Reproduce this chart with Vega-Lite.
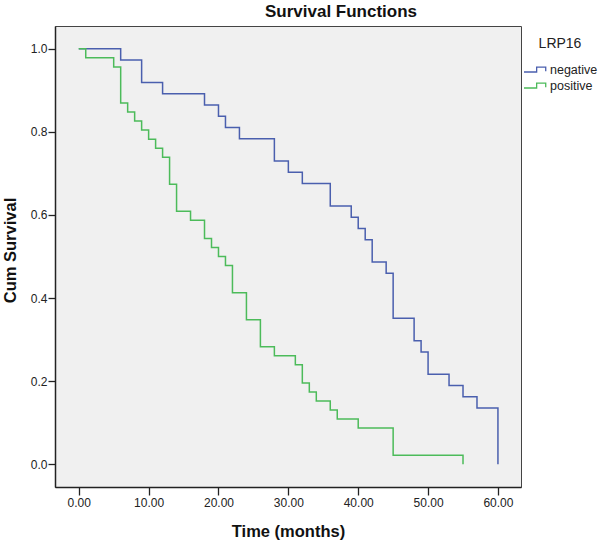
{
  "$schema": "https://vega.github.io/schema/vega-lite/v6.json",
  "width": 466,
  "height": 461,
  "autosize": {"type": "none"},
  "padding": {"left": 55, "top": 26, "right": 79, "bottom": 57},
  "background": "#ffffff",
  "title": {
    "text": "Survival Functions",
    "font": "Liberation Sans",
    "fontSize": 17,
    "fontWeight": "bold",
    "color": "#111111",
    "anchor": "middle",
    "dx": 53,
    "offset": 5
  },
  "data": {
    "values": [
      {"group": "negative", "time": 0, "survival": 1.0},
      {"group": "negative", "time": 6, "survival": 0.973},
      {"group": "negative", "time": 9, "survival": 0.9189},
      {"group": "negative", "time": 12, "survival": 0.8919},
      {"group": "negative", "time": 18, "survival": 0.8649},
      {"group": "negative", "time": 20, "survival": 0.8378},
      {"group": "negative", "time": 21, "survival": 0.8108},
      {"group": "negative", "time": 23, "survival": 0.7838},
      {"group": "negative", "time": 28, "survival": 0.7297},
      {"group": "negative", "time": 30, "survival": 0.7027},
      {"group": "negative", "time": 32, "survival": 0.6757},
      {"group": "negative", "time": 36, "survival": 0.6216},
      {"group": "negative", "time": 39, "survival": 0.5946},
      {"group": "negative", "time": 40, "survival": 0.5676},
      {"group": "negative", "time": 41, "survival": 0.5405},
      {"group": "negative", "time": 42, "survival": 0.4865},
      {"group": "negative", "time": 44, "survival": 0.4595},
      {"group": "negative", "time": 45, "survival": 0.3514},
      {"group": "negative", "time": 48, "survival": 0.2973},
      {"group": "negative", "time": 49, "survival": 0.2703},
      {"group": "negative", "time": 50, "survival": 0.2162},
      {"group": "negative", "time": 53, "survival": 0.1892},
      {"group": "negative", "time": 55, "survival": 0.1622},
      {"group": "negative", "time": 57, "survival": 0.1351},
      {"group": "negative", "time": 60, "survival": 0.0},
      {"group": "positive", "time": 0, "survival": 1.0},
      {"group": "positive", "time": 1, "survival": 0.9783},
      {"group": "positive", "time": 5, "survival": 0.9565},
      {"group": "positive", "time": 6, "survival": 0.8696},
      {"group": "positive", "time": 7, "survival": 0.8478},
      {"group": "positive", "time": 8, "survival": 0.8261},
      {"group": "positive", "time": 9, "survival": 0.8043},
      {"group": "positive", "time": 10, "survival": 0.7826},
      {"group": "positive", "time": 11, "survival": 0.7609},
      {"group": "positive", "time": 12, "survival": 0.7391},
      {"group": "positive", "time": 13, "survival": 0.6739},
      {"group": "positive", "time": 14, "survival": 0.6087},
      {"group": "positive", "time": 16, "survival": 0.587},
      {"group": "positive", "time": 18, "survival": 0.5435},
      {"group": "positive", "time": 19, "survival": 0.5217},
      {"group": "positive", "time": 20, "survival": 0.5},
      {"group": "positive", "time": 21, "survival": 0.4783},
      {"group": "positive", "time": 22, "survival": 0.413},
      {"group": "positive", "time": 24, "survival": 0.3478},
      {"group": "positive", "time": 26, "survival": 0.2826},
      {"group": "positive", "time": 28, "survival": 0.2609},
      {"group": "positive", "time": 31, "survival": 0.2391},
      {"group": "positive", "time": 32, "survival": 0.1957},
      {"group": "positive", "time": 33, "survival": 0.1739},
      {"group": "positive", "time": 34, "survival": 0.1522},
      {"group": "positive", "time": 36, "survival": 0.1304},
      {"group": "positive", "time": 37, "survival": 0.1087},
      {"group": "positive", "time": 40, "survival": 0.087},
      {"group": "positive", "time": 45, "survival": 0.0217},
      {"group": "positive", "time": 55, "survival": 0.0}
    ]
  },
  "mark": {"type": "line", "interpolate": "step-after", "strokeWidth": 1.5},
  "encoding": {
    "x": {
      "field": "time",
      "type": "quantitative",
      "scale": {"domain": [-3.4, 63.3], "nice": false, "zero": false},
      "axis": {
        "title": "Time (months)",
        "values": [0, 10, 20, 30, 40, 50, 60],
        "format": ".2f",
        "tickSize": 8,
        "labelPadding": 2,
        "titleY": 49,
        "titleBaseline": "alphabetic"
      }
    },
    "y": {
      "field": "survival",
      "type": "quantitative",
      "scale": {"domain": [-0.055, 1.055], "nice": false, "zero": false},
      "axis": {
        "title": "Cum Survival",
        "values": [0, 0.2, 0.4, 0.6, 0.8, 1.0],
        "format": ".1f",
        "tickSize": 7,
        "labelPadding": 1,
        "titleX": -40,
        "titleY": 224,
        "titleBaseline": "alphabetic"
      }
    },
    "color": {
      "field": "group",
      "type": "nominal",
      "scale": {"domain": ["negative", "positive"], "range": ["#4a5fae", "#4cbb5a"]},
      "legend": {
        "title": "LRP16",
        "orient": "none",
        "legendX": 468,
        "legendY": 11,
        "titleAnchor": "middle",
        "titleFontSize": 14,
        "titleFontWeight": "normal",
        "titlePadding": 12,
        "labelFontSize": 12.5,
        "symbolType": "M-1,0.45H1.3V-0.45H2.95V0.3",
        "symbolSize": 121,
        "symbolStrokeWidth": 1.3,
        "symbolFillColor": "transparent",
        "labelOffset": 14,
        "rowPadding": 3,
        "padding": 0
      }
    }
  },
  "config": {
    "font": "Liberation Sans",
    "view": {"fill": "#f0f0f0", "stroke": "#444444", "strokeWidth": 1},
    "axis": {
      "grid": false,
      "domainColor": "#222222",
      "domainWidth": 1.5,
      "tickColor": "#222222",
      "tickWidth": 1.3,
      "labelFont": "Liberation Sans",
      "labelFontSize": 12,
      "labelColor": "#222222",
      "titleFont": "Liberation Sans",
      "titleFontSize": 16.5,
      "titleFontWeight": "bold",
      "titleColor": "#111111"
    },
    "legend": {
      "labelFont": "Liberation Sans",
      "titleFont": "Liberation Sans",
      "labelColor": "#222222",
      "titleColor": "#222222"
    }
  }
}
